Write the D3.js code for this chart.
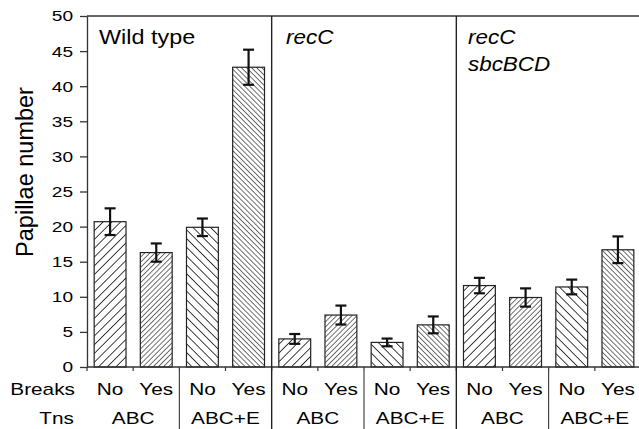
<!DOCTYPE html>
<html><head><meta charset="utf-8">
<script src="https://cdn.jsdelivr.net/npm/d3@7"></script>
<style>body{margin:0;background:#fff}svg{display:block}svg text{font-family:"Liberation Sans",Arial,sans-serif}</style>
</head><body><svg id="c" width="639" height="429"></svg>
<script>
const panels = ["Wild type", "recC", "recC sbcBCD"];
const tns = ["ABC", "ABC", "ABC+E", "ABC+E"];
const breaks = ["No", "Yes", "No", "Yes"];
const wildType = [20.7, 16.3, 19.9, 42.7];
const wildTypeErr = [1.9, 1.3, 1.25, 2.5];
const recC = [4.0, 7.4, 3.5, 6.0];
const recCErr = [0.7, 1.35, 0.55, 1.2];
const recCsbc = [11.6, 9.9, 11.4, 16.7];
const recCsbcErr = [1.1, 1.3, 1.05, 1.9];
const yTicks = [0, 5, 10, 15, 20, 25, 30, 35, 40, 45, 50];

const series = [wildType, recC, recCsbc];
const errs = [wildTypeErr, recCErr, recCsbcErr];
const data = [];
series.forEach((s, p) => s.forEach((v, i) => data.push({p, i, v, e: errs[p][i], key: p + "-" + i})));

const svg = d3.select("#c");
const L = 87, R = 641, T = 16, B = 367;
const x = d3.scaleBand().domain(data.map(d => d.key)).range([L, R]).paddingInner(0.31).paddingOuter(0.155);
const y = d3.scaleLinear().domain([0, 50]).range([B, T]);
const step = x.step();
const SX = 1.21;

function txt(g, tx, ty, s, size, anchor, sx, italic) {
  return g.append("text").attr("transform", `translate(${tx},${ty}) scale(${sx},1)`)
    .attr("text-anchor", anchor).attr("font-size", size)
    .attr("font-style", italic ? "italic" : "normal").attr("fill", "#000").text(s);
}

const defs = svg.append("defs");
function pat(id, size, angle, sw) {
  const p = defs.append("pattern").attr("id", id).attr("patternUnits", "userSpaceOnUse")
    .attr("width", size).attr("height", size).attr("patternTransform", `rotate(${angle})`);
  p.append("rect").attr("width", size).attr("height", size).attr("fill", "#fff");
  p.append("line").attr("x1", 0).attr("y1", 0).attr("x2", 0).attr("y2", size)
    .attr("stroke", "#111").attr("stroke-width", sw);
}
pat("p0", 6.2, 45, 1.6);
pat("p1", 3.6, 45, 1.2);
pat("p2", 6.2, -45, 1.6);
pat("p3", 3.6, -45, 1.2);

// bars
svg.append("g").selectAll("rect").data(data).join("rect")
  .attr("x", d => x(d.key)).attr("y", d => y(d.v))
  .attr("width", x.bandwidth()).attr("height", d => y(0) - y(d.v))
  .attr("fill", d => `url(#p${d.i})`).attr("stroke", "#222").attr("stroke-width", 1.2);

// error bars
const eg = svg.append("g").attr("stroke", "#111").attr("stroke-width", 2.2);
data.forEach(d => {
  const cx = x(d.key) + x.bandwidth() / 2;
  eg.append("line").attr("x1", cx).attr("x2", cx).attr("y1", y(d.v - d.e)).attr("y2", y(d.v + d.e));
  [d.v - d.e, d.v + d.e].forEach(v => eg.append("line").attr("x1", cx - 5.5).attr("x2", cx + 5.5).attr("y1", y(v)).attr("y2", y(v)));
});

// y axis
const ya = d3.axisLeft(y).tickValues(yTicks).tickSize(7).tickSizeOuter(0);
const yg = svg.append("g").attr("transform", `translate(${L},0)`).call(ya);
yg.selectAll("text").attr("font-size", 15.5).attr("fill", "#000").attr("x", 0)
  .attr("font-family", "Liberation Sans, Arial, sans-serif")
  .attr("transform", "translate(-14,0) scale(1.23,1)");
yg.select(".domain").attr("stroke", "#333").attr("stroke-width", 1.3);
yg.selectAll(".tick line").attr("stroke", "#333").attr("stroke-width", 1.3);

// top border and bottom axis line
svg.append("line").attr("x1", L).attr("x2", 639).attr("y1", T).attr("y2", T).attr("stroke", "#333").attr("stroke-width", 1.3);
svg.append("line").attr("x1", L).attr("x2", 639).attr("y1", B).attr("y2", B).attr("stroke", "#333").attr("stroke-width", 1.3);
const bounds = d3.range(0, 13).map(k => L + k * step);
svg.append("g").selectAll("line").data(bounds).join("line")
  .attr("x1", d => d).attr("x2", d => d).attr("y1", B).attr("y2", B + 4)
  .attr("stroke", "#333").attr("stroke-width", 1.2);

// panel dividers
[1, 2].forEach(p => {
  const xx = L + p * 4 * step;
  svg.append("line").attr("x1", xx).attr("x2", xx).attr("y1", T).attr("y2", 429).attr("stroke", "#222").attr("stroke-width", 1.4);
});
[0, 1, 2].forEach(p => {
  const xx = L + (p * 4 + 2) * step;
  svg.append("line").attr("x1", xx).attr("x2", xx).attr("y1", B + 4).attr("y2", 429).attr("stroke", "#222").attr("stroke-width", 1);
});

// y label
svg.append("text").attr("transform", `translate(33,172) rotate(-90)`)
  .attr("text-anchor", "middle").attr("font-size", 23.5).attr("fill", "#000").text("Papillae number");

// panel titles
txt(svg, 99, 44, panels[0], 19.5, "start", 1.2, false);
txt(svg, 286, 44, panels[1], 19.5, "start", 1.15, true);
const t3 = panels[2].split(" ");
txt(svg, 468, 44, t3[0], 19.5, "start", 1.15, true);
txt(svg, 468, 71, t3[1], 19.5, "start", 1.15, true);

// category labels
txt(svg, 75, 395, "Breaks", 17.2, "end", SX, false);
txt(svg, 74, 424, "Tns", 17.2, "end", SX, false);
const bl = svg.append("g");
data.forEach(d => txt(bl, x(d.key) + x.bandwidth() / 2, 395, breaks[d.i], 17.2, "middle", SX, false));
const tg = svg.append("g");
[0, 1, 2].forEach(p => [0, 2].forEach(i => txt(tg, L + (p * 4 + i + 1) * step, 424, tns[i], 17.2, "middle", SX, false)));
</script></body></html>
